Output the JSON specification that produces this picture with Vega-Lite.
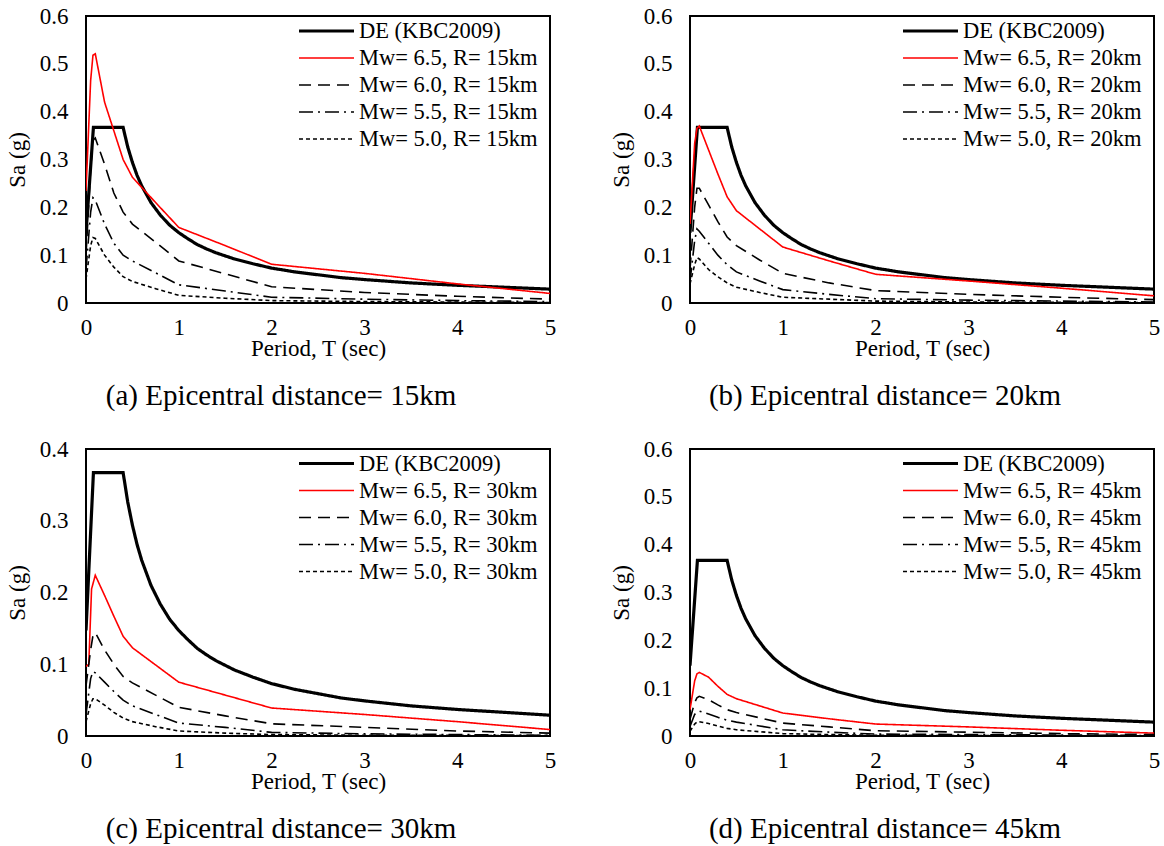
{
"$schema": "https://vega.github.io/schema/vega-lite/v6.json",
"background": "white",
"padding": {"left": 5, "top": 4, "right": 4, "bottom": 4},
"datasets": {
"de": [
{"s":"DE (KBC2009)","T":0,"Sa":0.147},{"s":"DE (KBC2009)","T":0.08,"Sa":0.367},{"s":"DE (KBC2009)","T":0.4,"Sa":0.367},{"s":"DE (KBC2009)","T":0.45,"Sa":0.326},{"s":"DE (KBC2009)","T":0.5,"Sa":0.294},{"s":"DE (KBC2009)","T":0.55,"Sa":0.267},{"s":"DE (KBC2009)","T":0.6,"Sa":0.245},{"s":"DE (KBC2009)","T":0.7,"Sa":0.21},{"s":"DE (KBC2009)","T":0.8,"Sa":0.184},{"s":"DE (KBC2009)","T":0.9,"Sa":0.163},{"s":"DE (KBC2009)","T":1.0,"Sa":0.147},{"s":"DE (KBC2009)","T":1.1,"Sa":0.134},{"s":"DE (KBC2009)","T":1.2,"Sa":0.122},{"s":"DE (KBC2009)","T":1.3,"Sa":0.113},{"s":"DE (KBC2009)","T":1.4,"Sa":0.105},{"s":"DE (KBC2009)","T":1.6,"Sa":0.092},{"s":"DE (KBC2009)","T":1.8,"Sa":0.082},{"s":"DE (KBC2009)","T":2.0,"Sa":0.073},{"s":"DE (KBC2009)","T":2.25,"Sa":0.065},{"s":"DE (KBC2009)","T":2.5,"Sa":0.059},{"s":"DE (KBC2009)","T":2.75,"Sa":0.053},{"s":"DE (KBC2009)","T":3.0,"Sa":0.049},{"s":"DE (KBC2009)","T":3.5,"Sa":0.042},{"s":"DE (KBC2009)","T":4.0,"Sa":0.037},{"s":"DE (KBC2009)","T":4.5,"Sa":0.033},{"s":"DE (KBC2009)","T":5.0,"Sa":0.029}
],
"a": [
{"s":"Mw= 6.5, R= 15km","T":0,"Sa":0.234},{"s":"Mw= 6.5, R= 15km","T":0.05,"Sa":0.465},{"s":"Mw= 6.5, R= 15km","T":0.075,"Sa":0.518},{"s":"Mw= 6.5, R= 15km","T":0.1,"Sa":0.521},{"s":"Mw= 6.5, R= 15km","T":0.2,"Sa":0.42},{"s":"Mw= 6.5, R= 15km","T":0.3,"Sa":0.36},{"s":"Mw= 6.5, R= 15km","T":0.4,"Sa":0.3},{"s":"Mw= 6.5, R= 15km","T":0.5,"Sa":0.263},{"s":"Mw= 6.5, R= 15km","T":0.75,"Sa":0.21},{"s":"Mw= 6.5, R= 15km","T":1,"Sa":0.158},{"s":"Mw= 6.5, R= 15km","T":1.5,"Sa":0.12},{"s":"Mw= 6.5, R= 15km","T":2,"Sa":0.081},{"s":"Mw= 6.5, R= 15km","T":3,"Sa":0.062},{"s":"Mw= 6.5, R= 15km","T":4,"Sa":0.04},{"s":"Mw= 6.5, R= 15km","T":5,"Sa":0.02},
{"s":"Mw= 6.0, R= 15km","T":0,"Sa":0.1},{"s":"Mw= 6.0, R= 15km","T":0.05,"Sa":0.28},{"s":"Mw= 6.0, R= 15km","T":0.075,"Sa":0.34},{"s":"Mw= 6.0, R= 15km","T":0.1,"Sa":0.345},{"s":"Mw= 6.0, R= 15km","T":0.2,"Sa":0.29},{"s":"Mw= 6.0, R= 15km","T":0.3,"Sa":0.23},{"s":"Mw= 6.0, R= 15km","T":0.4,"Sa":0.19},{"s":"Mw= 6.0, R= 15km","T":0.5,"Sa":0.165},{"s":"Mw= 6.0, R= 15km","T":0.75,"Sa":0.127},{"s":"Mw= 6.0, R= 15km","T":1,"Sa":0.088},{"s":"Mw= 6.0, R= 15km","T":1.5,"Sa":0.061},{"s":"Mw= 6.0, R= 15km","T":2,"Sa":0.034},{"s":"Mw= 6.0, R= 15km","T":3,"Sa":0.022},{"s":"Mw= 6.0, R= 15km","T":4,"Sa":0.014},{"s":"Mw= 6.0, R= 15km","T":5,"Sa":0.008},
{"s":"Mw= 5.5, R= 15km","T":0,"Sa":0.07},{"s":"Mw= 5.5, R= 15km","T":0.05,"Sa":0.19},{"s":"Mw= 5.5, R= 15km","T":0.075,"Sa":0.22},{"s":"Mw= 5.5, R= 15km","T":0.1,"Sa":0.215},{"s":"Mw= 5.5, R= 15km","T":0.2,"Sa":0.165},{"s":"Mw= 5.5, R= 15km","T":0.3,"Sa":0.125},{"s":"Mw= 5.5, R= 15km","T":0.4,"Sa":0.1},{"s":"Mw= 5.5, R= 15km","T":0.5,"Sa":0.088},{"s":"Mw= 5.5, R= 15km","T":0.75,"Sa":0.063},{"s":"Mw= 5.5, R= 15km","T":1,"Sa":0.038},{"s":"Mw= 5.5, R= 15km","T":1.5,"Sa":0.025},{"s":"Mw= 5.5, R= 15km","T":2,"Sa":0.012},{"s":"Mw= 5.5, R= 15km","T":3,"Sa":0.008},{"s":"Mw= 5.5, R= 15km","T":4,"Sa":0.005},{"s":"Mw= 5.5, R= 15km","T":5,"Sa":0.003},
{"s":"Mw= 5.0, R= 15km","T":0,"Sa":0.05},{"s":"Mw= 5.0, R= 15km","T":0.05,"Sa":0.12},{"s":"Mw= 5.0, R= 15km","T":0.075,"Sa":0.137},{"s":"Mw= 5.0, R= 15km","T":0.1,"Sa":0.135},{"s":"Mw= 5.0, R= 15km","T":0.2,"Sa":0.1},{"s":"Mw= 5.0, R= 15km","T":0.3,"Sa":0.075},{"s":"Mw= 5.0, R= 15km","T":0.4,"Sa":0.055},{"s":"Mw= 5.0, R= 15km","T":0.5,"Sa":0.045},{"s":"Mw= 5.0, R= 15km","T":0.75,"Sa":0.03},{"s":"Mw= 5.0, R= 15km","T":1,"Sa":0.016},{"s":"Mw= 5.0, R= 15km","T":1.5,"Sa":0.01},{"s":"Mw= 5.0, R= 15km","T":2,"Sa":0.005},{"s":"Mw= 5.0, R= 15km","T":3,"Sa":0.003},{"s":"Mw= 5.0, R= 15km","T":4,"Sa":0.002},{"s":"Mw= 5.0, R= 15km","T":5,"Sa":0.001}
],
"b": [
{"s":"Mw= 6.5, R= 20km","T":0,"Sa":0.165},{"s":"Mw= 6.5, R= 20km","T":0.05,"Sa":0.333},{"s":"Mw= 6.5, R= 20km","T":0.075,"Sa":0.365},{"s":"Mw= 6.5, R= 20km","T":0.1,"Sa":0.37},{"s":"Mw= 6.5, R= 20km","T":0.2,"Sa":0.32},{"s":"Mw= 6.5, R= 20km","T":0.3,"Sa":0.27},{"s":"Mw= 6.5, R= 20km","T":0.4,"Sa":0.222},{"s":"Mw= 6.5, R= 20km","T":0.5,"Sa":0.193},{"s":"Mw= 6.5, R= 20km","T":0.75,"Sa":0.155},{"s":"Mw= 6.5, R= 20km","T":1,"Sa":0.117},{"s":"Mw= 6.5, R= 20km","T":1.5,"Sa":0.088},{"s":"Mw= 6.5, R= 20km","T":2,"Sa":0.06},{"s":"Mw= 6.5, R= 20km","T":3,"Sa":0.046},{"s":"Mw= 6.5, R= 20km","T":4,"Sa":0.031},{"s":"Mw= 6.5, R= 20km","T":5,"Sa":0.015},
{"s":"Mw= 6.0, R= 20km","T":0,"Sa":0.07},{"s":"Mw= 6.0, R= 20km","T":0.05,"Sa":0.2},{"s":"Mw= 6.0, R= 20km","T":0.075,"Sa":0.24},{"s":"Mw= 6.0, R= 20km","T":0.1,"Sa":0.24},{"s":"Mw= 6.0, R= 20km","T":0.2,"Sa":0.205},{"s":"Mw= 6.0, R= 20km","T":0.3,"Sa":0.17},{"s":"Mw= 6.0, R= 20km","T":0.4,"Sa":0.138},{"s":"Mw= 6.0, R= 20km","T":0.5,"Sa":0.12},{"s":"Mw= 6.0, R= 20km","T":0.75,"Sa":0.09},{"s":"Mw= 6.0, R= 20km","T":1,"Sa":0.062},{"s":"Mw= 6.0, R= 20km","T":1.5,"Sa":0.042},{"s":"Mw= 6.0, R= 20km","T":2,"Sa":0.026},{"s":"Mw= 6.0, R= 20km","T":3,"Sa":0.018},{"s":"Mw= 6.0, R= 20km","T":4,"Sa":0.012},{"s":"Mw= 6.0, R= 20km","T":5,"Sa":0.007},
{"s":"Mw= 5.5, R= 20km","T":0,"Sa":0.045},{"s":"Mw= 5.5, R= 20km","T":0.05,"Sa":0.13},{"s":"Mw= 5.5, R= 20km","T":0.075,"Sa":0.155},{"s":"Mw= 5.5, R= 20km","T":0.1,"Sa":0.15},{"s":"Mw= 5.5, R= 20km","T":0.2,"Sa":0.125},{"s":"Mw= 5.5, R= 20km","T":0.3,"Sa":0.1},{"s":"Mw= 5.5, R= 20km","T":0.4,"Sa":0.08},{"s":"Mw= 5.5, R= 20km","T":0.5,"Sa":0.065},{"s":"Mw= 5.5, R= 20km","T":0.75,"Sa":0.046},{"s":"Mw= 5.5, R= 20km","T":1,"Sa":0.028},{"s":"Mw= 5.5, R= 20km","T":1.5,"Sa":0.018},{"s":"Mw= 5.5, R= 20km","T":2,"Sa":0.009},{"s":"Mw= 5.5, R= 20km","T":3,"Sa":0.006},{"s":"Mw= 5.5, R= 20km","T":4,"Sa":0.004},{"s":"Mw= 5.5, R= 20km","T":5,"Sa":0.002},
{"s":"Mw= 5.0, R= 20km","T":0,"Sa":0.04},{"s":"Mw= 5.0, R= 20km","T":0.05,"Sa":0.08},{"s":"Mw= 5.0, R= 20km","T":0.075,"Sa":0.095},{"s":"Mw= 5.0, R= 20km","T":0.1,"Sa":0.092},{"s":"Mw= 5.0, R= 20km","T":0.2,"Sa":0.07},{"s":"Mw= 5.0, R= 20km","T":0.3,"Sa":0.055},{"s":"Mw= 5.0, R= 20km","T":0.4,"Sa":0.042},{"s":"Mw= 5.0, R= 20km","T":0.5,"Sa":0.033},{"s":"Mw= 5.0, R= 20km","T":0.75,"Sa":0.022},{"s":"Mw= 5.0, R= 20km","T":1,"Sa":0.012},{"s":"Mw= 5.0, R= 20km","T":1.5,"Sa":0.008},{"s":"Mw= 5.0, R= 20km","T":2,"Sa":0.004},{"s":"Mw= 5.0, R= 20km","T":3,"Sa":0.002},{"s":"Mw= 5.0, R= 20km","T":4,"Sa":0.0015},{"s":"Mw= 5.0, R= 20km","T":5,"Sa":0.001}
],
"c": [
{"s":"Mw= 6.5, R= 30km","T":0,"Sa":0.097},{"s":"Mw= 6.5, R= 30km","T":0.03,"Sa":0.1},{"s":"Mw= 6.5, R= 30km","T":0.06,"Sa":0.205},{"s":"Mw= 6.5, R= 30km","T":0.1,"Sa":0.224},{"s":"Mw= 6.5, R= 30km","T":0.2,"Sa":0.196},{"s":"Mw= 6.5, R= 30km","T":0.3,"Sa":0.167},{"s":"Mw= 6.5, R= 30km","T":0.4,"Sa":0.139},{"s":"Mw= 6.5, R= 30km","T":0.5,"Sa":0.123},{"s":"Mw= 6.5, R= 30km","T":0.75,"Sa":0.099},{"s":"Mw= 6.5, R= 30km","T":1,"Sa":0.075},{"s":"Mw= 6.5, R= 30km","T":1.5,"Sa":0.057},{"s":"Mw= 6.5, R= 30km","T":2,"Sa":0.039},{"s":"Mw= 6.5, R= 30km","T":3,"Sa":0.03},{"s":"Mw= 6.5, R= 30km","T":4,"Sa":0.02},{"s":"Mw= 6.5, R= 30km","T":5,"Sa":0.009},
{"s":"Mw= 6.0, R= 30km","T":0,"Sa":0.07},{"s":"Mw= 6.0, R= 30km","T":0.05,"Sa":0.12},{"s":"Mw= 6.0, R= 30km","T":0.075,"Sa":0.14},{"s":"Mw= 6.0, R= 30km","T":0.1,"Sa":0.144},{"s":"Mw= 6.0, R= 30km","T":0.2,"Sa":0.12},{"s":"Mw= 6.0, R= 30km","T":0.3,"Sa":0.1},{"s":"Mw= 6.0, R= 30km","T":0.4,"Sa":0.083},{"s":"Mw= 6.0, R= 30km","T":0.5,"Sa":0.074},{"s":"Mw= 6.0, R= 30km","T":0.75,"Sa":0.057},{"s":"Mw= 6.0, R= 30km","T":1,"Sa":0.04},{"s":"Mw= 6.0, R= 30km","T":1.5,"Sa":0.028},{"s":"Mw= 6.0, R= 30km","T":2,"Sa":0.017},{"s":"Mw= 6.0, R= 30km","T":3,"Sa":0.012},{"s":"Mw= 6.0, R= 30km","T":4,"Sa":0.007},{"s":"Mw= 6.0, R= 30km","T":5,"Sa":0.004},
{"s":"Mw= 5.5, R= 30km","T":0,"Sa":0.03},{"s":"Mw= 5.5, R= 30km","T":0.05,"Sa":0.08},{"s":"Mw= 5.5, R= 30km","T":0.075,"Sa":0.09},{"s":"Mw= 5.5, R= 30km","T":0.1,"Sa":0.088},{"s":"Mw= 5.5, R= 30km","T":0.2,"Sa":0.075},{"s":"Mw= 5.5, R= 30km","T":0.3,"Sa":0.062},{"s":"Mw= 5.5, R= 30km","T":0.4,"Sa":0.05},{"s":"Mw= 5.5, R= 30km","T":0.5,"Sa":0.042},{"s":"Mw= 5.5, R= 30km","T":0.75,"Sa":0.03},{"s":"Mw= 5.5, R= 30km","T":1,"Sa":0.018},{"s":"Mw= 5.5, R= 30km","T":1.5,"Sa":0.012},{"s":"Mw= 5.5, R= 30km","T":2,"Sa":0.005},{"s":"Mw= 5.5, R= 30km","T":3,"Sa":0.003},{"s":"Mw= 5.5, R= 30km","T":4,"Sa":0.002},{"s":"Mw= 5.5, R= 30km","T":5,"Sa":0.001},
{"s":"Mw= 5.0, R= 30km","T":0,"Sa":0.02},{"s":"Mw= 5.0, R= 30km","T":0.05,"Sa":0.045},{"s":"Mw= 5.0, R= 30km","T":0.075,"Sa":0.052},{"s":"Mw= 5.0, R= 30km","T":0.1,"Sa":0.052},{"s":"Mw= 5.0, R= 30km","T":0.2,"Sa":0.043},{"s":"Mw= 5.0, R= 30km","T":0.3,"Sa":0.033},{"s":"Mw= 5.0, R= 30km","T":0.4,"Sa":0.025},{"s":"Mw= 5.0, R= 30km","T":0.5,"Sa":0.02},{"s":"Mw= 5.0, R= 30km","T":0.75,"Sa":0.013},{"s":"Mw= 5.0, R= 30km","T":1,"Sa":0.007},{"s":"Mw= 5.0, R= 30km","T":1.5,"Sa":0.004},{"s":"Mw= 5.0, R= 30km","T":2,"Sa":0.002},{"s":"Mw= 5.0, R= 30km","T":3,"Sa":0.001},{"s":"Mw= 5.0, R= 30km","T":4,"Sa":0.0008},{"s":"Mw= 5.0, R= 30km","T":5,"Sa":0.0005}
],
"d": [
{"s":"Mw= 6.5, R= 45km","T":0,"Sa":0.055},{"s":"Mw= 6.5, R= 45km","T":0.05,"Sa":0.115},{"s":"Mw= 6.5, R= 45km","T":0.075,"Sa":0.13},{"s":"Mw= 6.5, R= 45km","T":0.1,"Sa":0.133},{"s":"Mw= 6.5, R= 45km","T":0.2,"Sa":0.123},{"s":"Mw= 6.5, R= 45km","T":0.3,"Sa":0.104},{"s":"Mw= 6.5, R= 45km","T":0.4,"Sa":0.087},{"s":"Mw= 6.5, R= 45km","T":0.5,"Sa":0.078},{"s":"Mw= 6.5, R= 45km","T":0.75,"Sa":0.063},{"s":"Mw= 6.5, R= 45km","T":1,"Sa":0.048},{"s":"Mw= 6.5, R= 45km","T":1.5,"Sa":0.036},{"s":"Mw= 6.5, R= 45km","T":2,"Sa":0.025},{"s":"Mw= 6.5, R= 45km","T":3,"Sa":0.019},{"s":"Mw= 6.5, R= 45km","T":4,"Sa":0.012},{"s":"Mw= 6.5, R= 45km","T":5,"Sa":0.006},
{"s":"Mw= 6.0, R= 45km","T":0,"Sa":0.035},{"s":"Mw= 6.0, R= 45km","T":0.05,"Sa":0.07},{"s":"Mw= 6.0, R= 45km","T":0.075,"Sa":0.08},{"s":"Mw= 6.0, R= 45km","T":0.1,"Sa":0.083},{"s":"Mw= 6.0, R= 45km","T":0.2,"Sa":0.076},{"s":"Mw= 6.0, R= 45km","T":0.3,"Sa":0.065},{"s":"Mw= 6.0, R= 45km","T":0.4,"Sa":0.055},{"s":"Mw= 6.0, R= 45km","T":0.5,"Sa":0.049},{"s":"Mw= 6.0, R= 45km","T":0.75,"Sa":0.038},{"s":"Mw= 6.0, R= 45km","T":1,"Sa":0.027},{"s":"Mw= 6.0, R= 45km","T":1.5,"Sa":0.019},{"s":"Mw= 6.0, R= 45km","T":2,"Sa":0.011},{"s":"Mw= 6.0, R= 45km","T":3,"Sa":0.008},{"s":"Mw= 6.0, R= 45km","T":4,"Sa":0.005},{"s":"Mw= 6.0, R= 45km","T":5,"Sa":0.003},
{"s":"Mw= 5.5, R= 45km","T":0,"Sa":0.02},{"s":"Mw= 5.5, R= 45km","T":0.05,"Sa":0.045},{"s":"Mw= 5.5, R= 45km","T":0.075,"Sa":0.05},{"s":"Mw= 5.5, R= 45km","T":0.1,"Sa":0.052},{"s":"Mw= 5.5, R= 45km","T":0.2,"Sa":0.046},{"s":"Mw= 5.5, R= 45km","T":0.3,"Sa":0.039},{"s":"Mw= 5.5, R= 45km","T":0.4,"Sa":0.033},{"s":"Mw= 5.5, R= 45km","T":0.5,"Sa":0.029},{"s":"Mw= 5.5, R= 45km","T":0.75,"Sa":0.021},{"s":"Mw= 5.5, R= 45km","T":1,"Sa":0.013},{"s":"Mw= 5.5, R= 45km","T":1.5,"Sa":0.008},{"s":"Mw= 5.5, R= 45km","T":2,"Sa":0.004},{"s":"Mw= 5.5, R= 45km","T":3,"Sa":0.003},{"s":"Mw= 5.5, R= 45km","T":4,"Sa":0.002},{"s":"Mw= 5.5, R= 45km","T":5,"Sa":0.001},
{"s":"Mw= 5.0, R= 45km","T":0,"Sa":0.01},{"s":"Mw= 5.0, R= 45km","T":0.05,"Sa":0.025},{"s":"Mw= 5.0, R= 45km","T":0.075,"Sa":0.029},{"s":"Mw= 5.0, R= 45km","T":0.1,"Sa":0.03},{"s":"Mw= 5.0, R= 45km","T":0.2,"Sa":0.026},{"s":"Mw= 5.0, R= 45km","T":0.3,"Sa":0.021},{"s":"Mw= 5.0, R= 45km","T":0.4,"Sa":0.016},{"s":"Mw= 5.0, R= 45km","T":0.5,"Sa":0.013},{"s":"Mw= 5.0, R= 45km","T":0.75,"Sa":0.009},{"s":"Mw= 5.0, R= 45km","T":1,"Sa":0.005},{"s":"Mw= 5.0, R= 45km","T":1.5,"Sa":0.003},{"s":"Mw= 5.0, R= 45km","T":2,"Sa":0.0015},{"s":"Mw= 5.0, R= 45km","T":3,"Sa":0.001},{"s":"Mw= 5.0, R= 45km","T":4,"Sa":0.0006},{"s":"Mw= 5.0, R= 45km","T":5,"Sa":0.0004}
]
},
"columns": 2,
"spacing": {"row": 25, "column": 52},
"concat": [
{
"width": 464, "height": 287,
"title": {"text": "(a) Epicentral distance= 15km"},
"encoding": {
"x": {"field": "T", "type": "quantitative", "scale": {"domain": [0, 5], "nice": false}, "axis": {"values": [0,1,2,3,4,5], "title": "Period, T (sec)"}},
"y": {"field": "Sa", "type": "quantitative", "scale": {"domain": [0, 0.6], "nice": false}, "axis": {"values": [0,0.1,0.2,0.3,0.4,0.5,0.6], "format": "~g", "title": "Sa (g)"}},
"color": {"field": "s", "type": "nominal", "scale": {"domain": ["DE (KBC2009)","Mw= 6.5, R= 15km","Mw= 6.0, R= 15km","Mw= 5.5, R= 15km","Mw= 5.0, R= 15km"], "range": ["#000000","#ff0000","#000000","#000000","#000000"]}, "legend": {"title": null, "legendX": 211, "legendY": 2.5}},
"strokeDash": {"field": "s", "type": "nominal", "scale": {"domain": ["DE (KBC2009)","Mw= 6.5, R= 15km","Mw= 6.0, R= 15km","Mw= 5.5, R= 15km","Mw= 5.0, R= 15km"], "range": [[1,0],[1,0],[12,7],[14,5,2,5],[4,3]]}, "legend": {"title": null, "legendX": 211, "legendY": 2.5}},
"strokeWidth": {"field": "s", "type": "nominal", "scale": {"type": "ordinal", "domain": ["DE (KBC2009)","Mw= 6.5, R= 15km","Mw= 6.0, R= 15km","Mw= 5.5, R= 15km","Mw= 5.0, R= 15km"], "range": [3.2,1.6,1.6,1.6,1.6]}, "legend": {"title": null, "legendX": 211, "legendY": 2.5}}
},
"layer": [
{"data": {"name": "de"}, "mark": {"type": "line", "clip": true}},
{"data": {"name": "a"}, "mark": {"type": "line", "clip": true}}
]
},
{
"width": 464, "height": 287,
"title": {"text": "(b) Epicentral distance= 20km"},
"encoding": {
"x": {"field": "T", "type": "quantitative", "scale": {"domain": [0, 5], "nice": false}, "axis": {"values": [0,1,2,3,4,5], "title": "Period, T (sec)"}},
"y": {"field": "Sa", "type": "quantitative", "scale": {"domain": [0, 0.6], "nice": false}, "axis": {"values": [0,0.1,0.2,0.3,0.4,0.5,0.6], "format": "~g", "title": "Sa (g)"}},
"color": {"field": "s", "type": "nominal", "scale": {"domain": ["DE (KBC2009)","Mw= 6.5, R= 20km","Mw= 6.0, R= 20km","Mw= 5.5, R= 20km","Mw= 5.0, R= 20km"], "range": ["#000000","#ff0000","#000000","#000000","#000000"]}, "legend": {"title": null, "legendX": 211, "legendY": 2.5}},
"strokeDash": {"field": "s", "type": "nominal", "scale": {"domain": ["DE (KBC2009)","Mw= 6.5, R= 20km","Mw= 6.0, R= 20km","Mw= 5.5, R= 20km","Mw= 5.0, R= 20km"], "range": [[1,0],[1,0],[12,7],[14,5,2,5],[4,3]]}, "legend": {"title": null, "legendX": 211, "legendY": 2.5}},
"strokeWidth": {"field": "s", "type": "nominal", "scale": {"type": "ordinal", "domain": ["DE (KBC2009)","Mw= 6.5, R= 20km","Mw= 6.0, R= 20km","Mw= 5.5, R= 20km","Mw= 5.0, R= 20km"], "range": [3.2,1.6,1.6,1.6,1.6]}, "legend": {"title": null, "legendX": 211, "legendY": 2.5}}
},
"layer": [
{"data": {"name": "de"}, "mark": {"type": "line", "clip": true}},
{"data": {"name": "b"}, "mark": {"type": "line", "clip": true}}
]
},
{
"width": 464, "height": 287,
"title": {"text": "(c) Epicentral distance= 30km"},
"encoding": {
"x": {"field": "T", "type": "quantitative", "scale": {"domain": [0, 5], "nice": false}, "axis": {"values": [0,1,2,3,4,5], "title": "Period, T (sec)"}},
"y": {"field": "Sa", "type": "quantitative", "scale": {"domain": [0, 0.4], "nice": false}, "axis": {"values": [0,0.1,0.2,0.3,0.4], "format": "~g", "title": "Sa (g)"}},
"color": {"field": "s", "type": "nominal", "scale": {"domain": ["DE (KBC2009)","Mw= 6.5, R= 30km","Mw= 6.0, R= 30km","Mw= 5.5, R= 30km","Mw= 5.0, R= 30km"], "range": ["#000000","#ff0000","#000000","#000000","#000000"]}, "legend": {"title": null, "legendX": 211, "legendY": 2}},
"strokeDash": {"field": "s", "type": "nominal", "scale": {"domain": ["DE (KBC2009)","Mw= 6.5, R= 30km","Mw= 6.0, R= 30km","Mw= 5.5, R= 30km","Mw= 5.0, R= 30km"], "range": [[1,0],[1,0],[12,7],[14,5,2,5],[4,3]]}, "legend": {"title": null, "legendX": 211, "legendY": 2}},
"strokeWidth": {"field": "s", "type": "nominal", "scale": {"type": "ordinal", "domain": ["DE (KBC2009)","Mw= 6.5, R= 30km","Mw= 6.0, R= 30km","Mw= 5.5, R= 30km","Mw= 5.0, R= 30km"], "range": [3.2,1.6,1.6,1.6,1.6]}, "legend": {"title": null, "legendX": 211, "legendY": 2}}
},
"layer": [
{"data": {"name": "de"}, "mark": {"type": "line", "clip": true}},
{"data": {"name": "c"}, "mark": {"type": "line", "clip": true}}
]
},
{
"width": 464, "height": 287,
"title": {"text": "(d) Epicentral distance= 45km"},
"encoding": {
"x": {"field": "T", "type": "quantitative", "scale": {"domain": [0, 5], "nice": false}, "axis": {"values": [0,1,2,3,4,5], "title": "Period, T (sec)"}},
"y": {"field": "Sa", "type": "quantitative", "scale": {"domain": [0, 0.6], "nice": false}, "axis": {"values": [0,0.1,0.2,0.3,0.4,0.5,0.6], "format": "~g", "title": "Sa (g)"}},
"color": {"field": "s", "type": "nominal", "scale": {"domain": ["DE (KBC2009)","Mw= 6.5, R= 45km","Mw= 6.0, R= 45km","Mw= 5.5, R= 45km","Mw= 5.0, R= 45km"], "range": ["#000000","#ff0000","#000000","#000000","#000000"]}, "legend": {"title": null, "legendX": 211, "legendY": 2}},
"strokeDash": {"field": "s", "type": "nominal", "scale": {"domain": ["DE (KBC2009)","Mw= 6.5, R= 45km","Mw= 6.0, R= 45km","Mw= 5.5, R= 45km","Mw= 5.0, R= 45km"], "range": [[1,0],[1,0],[12,7],[14,5,2,5],[4,3]]}, "legend": {"title": null, "legendX": 211, "legendY": 2}},
"strokeWidth": {"field": "s", "type": "nominal", "scale": {"type": "ordinal", "domain": ["DE (KBC2009)","Mw= 6.5, R= 45km","Mw= 6.0, R= 45km","Mw= 5.5, R= 45km","Mw= 5.0, R= 45km"], "range": [3.2,1.6,1.6,1.6,1.6]}, "legend": {"title": null, "legendX": 211, "legendY": 2}}
},
"layer": [
{"data": {"name": "de"}, "mark": {"type": "line", "clip": true}},
{"data": {"name": "d"}, "mark": {"type": "line", "clip": true}}
]
}
],
"resolve": {"scale": {"y": "independent", "color": "independent", "strokeDash": "independent", "strokeWidth": "independent"}},
"config": {
"font": "Liberation Serif",
"view": {"stroke": "#000000", "strokeWidth": 2},
"axis": {"labelFont": "Liberation Serif", "labelFontSize": 23, "labelColor": "#000000", "titleFont": "Liberation Serif", "titleFontSize": 23, "titleFontWeight": "normal", "titleColor": "#000000", "domain": false, "ticks": false, "grid": false},
"axisX": {"labelPadding": 13, "titlePadding": -2, "labelFlush": false},
"axisY": {"labelPadding": 18, "titlePadding": 10},
"title": {"orient": "bottom", "frame": "bounds", "anchor": "middle", "offset": 22, "font": "Liberation Serif", "fontSize": 29, "fontWeight": "normal", "color": "#000000"},
"legend": {"orient": "none", "padding": 0, "labelFont": "Liberation Serif", "labelFontSize": 22.5, "labelColor": "#000000", "labelLimit": 400, "labelOffset": 3, "symbolType": "stroke", "symbolSize": 3025, "clipHeight": 25, "rowPadding": 2}
}
}
